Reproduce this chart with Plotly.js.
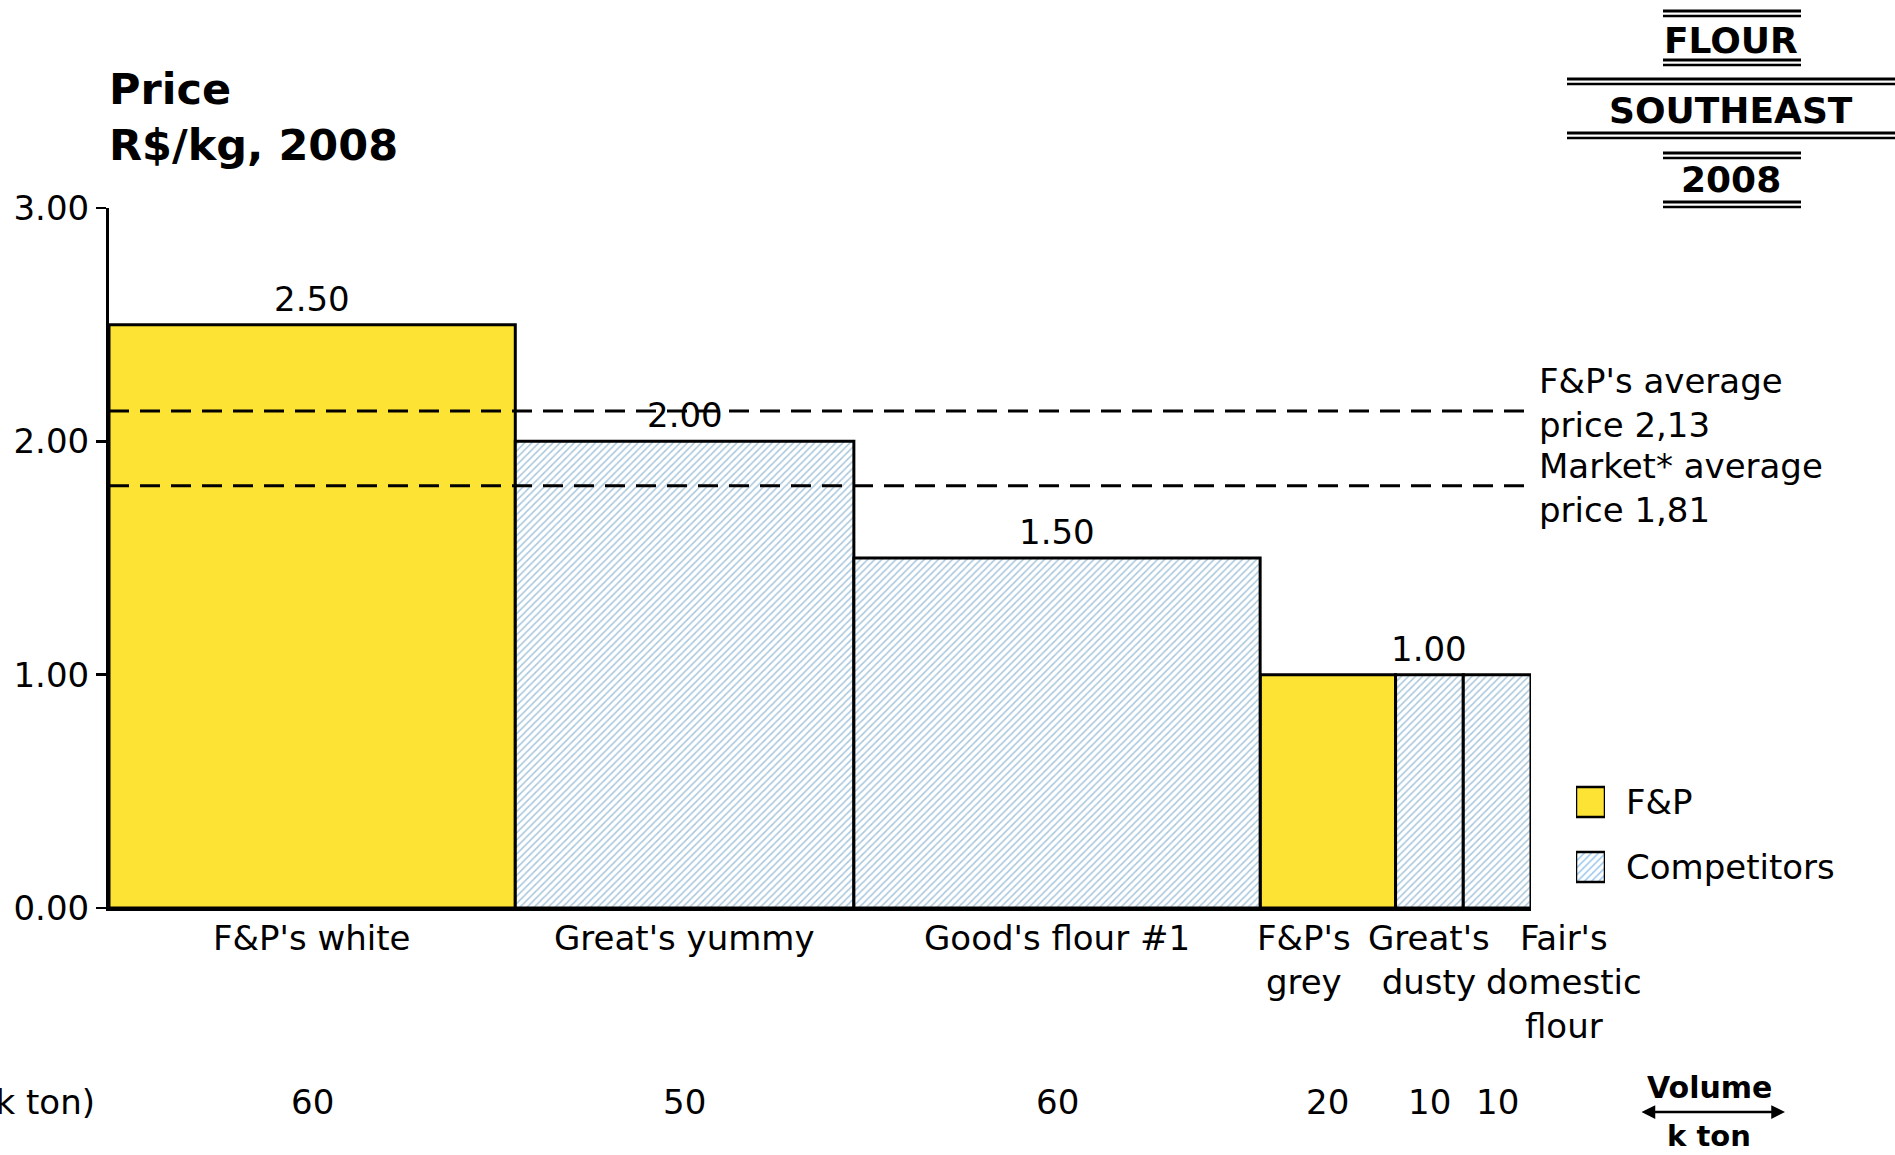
<!DOCTYPE html>
<html>
<head>
<meta charset="utf-8">
<script src="https://cdn.plot.ly/plotly-3.0.1.min.js"></script>
<style>
  html, body { margin: 0; padding: 0; background: #ffffff; }
  #chart { width: 1895px; height: 1155px; }
</style>
</head>
<body>
<div id="chart"></div>
<script>
// ---------------- DATA ----------------
const categories = ["F&P's white", "Great's yummy", "Good's flour #1", "F&P's grey", "Great's dusty", "Fair's domestic flour"];
const categoryLabels = ["F&P's white", "Great's yummy", "Good's flour #1", "F&P's<br>grey", "Great's<br>dusty", "Fair's<br>domestic<br>flour"];
const volumes = [60, 50, 60, 20, 10, 10];          // k ton
const prices = [2.50, 2.00, 1.50, 1.00, 1.00, 1.00]; // R$/kg
const owners = ["F&P", "Competitors", "Competitors", "F&P", "Competitors", "Competitors"];
const priceLabels = ["2.50", "2.00", "1.50", "", "1.00", ""];
const seriesNames = ["F&P", "Competitors"];
const averageNames = ["F&P's average<br>price 2,13", "Market* average<br>price 1,81"];
const averageValues = [2.13, 1.81];
const yTicks = [0, 1, 2, 3];
const headerLines = ["FLOUR", "SOUTHEAST", "2008"];
const chartTitle = "Price<br>R$/kg, 2008";
const volumeRowLabel = "Volume (k ton)";
const volumeAxisName = ["Volume", "k ton"];

// ---------------- STYLE / LAYOUT HELPERS ----------------
const FONT = "DejaVu Sans";
const YELLOW = "#FDE334";
const HATCH = { shape: "/", fgcolor: "#a9c7dc", bgcolor: "#ffffff", size: 5, solidity: 0.3 };
const seriesStyle = {
  "F&P": { color: YELLOW, pattern: { shape: "" } },
  "Competitors": { color: "#ffffff", pattern: HATCH }
};
const W = 1895, H = 1155;
const L = 109, T = 208, B = 247, R = 0;
const PW = W - L - R, PH = H - T - B;
const px = p => (p - L) / PW;          // pixel x -> paper x
const py = p => (T + PH - p) / PH;     // pixel y -> paper y
const labelShift = [0, 0, 0, -24, 0, 67];

// cumulative centres
const totalVolume = volumes.reduce((a, b) => a + b, 0);
const centers = [];
let acc = 0;
volumes.forEach(v => { centers.push(acc + v / 2); acc += v; });

const xEnd = px(1531);

// ---------------- TRACES ----------------
const traces = [];
seriesNames.forEach(name => {
  const idx = owners.map((o, i) => o === name ? i : -1).filter(i => i >= 0);
  traces.push({
    type: "bar",
    name: name,
    x: idx.map(i => centers[i]),
    y: idx.map(i => prices[i]),
    width: idx.map(i => volumes[i]),
    hovertext: idx.map(i => categories[i]),
    hoverinfo: "text+y",
    textposition: "none",
    cliponaxis: false,
    marker: {
      color: seriesStyle[name].color,
      pattern: seriesStyle[name].pattern,
      line: { color: "#000000", width: 3 }
    },
    xaxis: "x", yaxis: "y",
    showlegend: false
  });
});

// legend swatches (drawn as bars on a small helper axis)
seriesNames.forEach((name, k) => {
  traces.push({
    type: "bar",
    orientation: "h",
    x: [1], y: [seriesNames.length - 1 - k], base: 0, width: 0.46,
    marker: {
      color: seriesStyle[name].color,
      pattern: name === "Competitors" ? Object.assign({}, HATCH, { fgcolor: "#9cc8ef" }) : { shape: "" },
      line: { color: "#000000", width: 2.5 }
    },
    textposition: "none",
    xaxis: "x2", yaxis: "y2",
    hoverinfo: "skip",
    showlegend: false
  });
});

// ---------------- ANNOTATIONS ----------------
const annotations = [];
// price labels above bars
priceLabels.forEach((t, i) => {
  if (!t) return;
  annotations.push({ xref: "x", yref: "y", x: centers[i], y: prices[i], yshift: 26,
    text: t, showarrow: false, xanchor: "center", yanchor: "middle",
    font: { family: FONT, size: 34, color: "#000" } });
});
// category labels
categoryLabels.forEach((t, i) => {
  annotations.push({ xref: "x", yref: "y", x: centers[i], y: 0, yshift: -8, xshift: labelShift[i],
    text: t, showarrow: false, xanchor: "center", yanchor: "top", align: "center",
    font: { family: FONT, size: 34, color: "#000" } });
});
// volume row
volumes.forEach((v, i) => {
  annotations.push({ xref: "x", yref: "paper", x: centers[i], y: py(1102),
    text: String(v), showarrow: false, xanchor: "center", yanchor: "middle",
    font: { family: FONT, size: 34, color: "#000" } });
});
annotations.push({ xref: "paper", yref: "paper", x: px(97), y: py(1102),
  text: volumeRowLabel, showarrow: false, xanchor: "right", yanchor: "middle",
  font: { family: FONT, size: 34, color: "#000" } });
// averages
const avgShift = [8, -2];
averageNames.forEach((t, i) => {
  annotations.push({ xref: "x", yref: "y", x: totalVolume, y: averageValues[i], xshift: 6, yshift: avgShift[i],
    text: t, showarrow: false, xanchor: "left", yanchor: "middle", align: "left",
    font: { family: FONT, size: 34, color: "#000" } });
});
// legend labels
seriesNames.forEach((name, k) => {
  annotations.push({ xref: "paper", yref: "paper", x: px(1624), y: py(k === 0 ? 802 : 867),
    text: name, showarrow: false, xanchor: "left", yanchor: "middle",
    font: { family: FONT, size: 34, color: "#000" } });
});
// header
const headerY = [40, 110, 180];
const headerSize = [36, 36, 36];
headerLines.forEach((t, i) => {
  annotations.push({ xref: "paper", yref: "paper", x: px(1731), y: py(headerY[i]),
    text: "<b>" + t + "</b>", showarrow: false, xanchor: "center", yanchor: "middle",
    font: { family: FONT, size: headerSize[i], color: "#000" } });
});
// volume arrow key
annotations.push({ xref: "paper", yref: "paper", x: px(1709), y: py(1087),
  text: "<b>" + volumeAxisName[0] + "</b>", showarrow: false, xanchor: "center", yanchor: "middle",
  font: { family: FONT, size: 30, color: "#000" } });
annotations.push({ xref: "paper", yref: "paper", x: px(1709), y: py(1136),
  text: "<b>" + volumeAxisName[1] + "</b>", showarrow: false, xanchor: "center", yanchor: "middle",
  font: { family: FONT, size: 29, color: "#000" } });
annotations.push({ xref: "paper", yref: "paper", x: px(1785), y: py(1112),
  ax: -145, ay: 0, text: "", showarrow: true, arrowside: "end+start",
  arrowhead: 2, arrowsize: 1.1, arrowwidth: 2.5, arrowcolor: "#000" });

// ---------------- SHAPES ----------------
const shapes = [];
averageValues.forEach(v => {
  shapes.push({ type: "line", xref: "x", yref: "y", x0: 0, x1: totalVolume, y0: v, y1: v,
    line: { color: "#000", width: 3, dash: "20px,11px" }, layer: "above" });
});
// header double rules
const rules = [
  { x0: 1663, x1: 1801, ys: [11, 16, 60, 65] },
  { x0: 1567, x1: 1895, ys: [79, 84, 133, 138] },
  { x0: 1663, x1: 1801, ys: [153, 158, 202, 207] }
];
rules.forEach(r => {
  r.ys.forEach((yy, j) => {
    shapes.push({ type: "line", xref: "paper", yref: "paper", x0: px(r.x0), x1: px(r.x1), y0: py(yy), y1: py(yy),
      line: { color: "#000", width: j % 2 === 0 ? 3 : 2.5 } });
  });
});

// ---------------- LAYOUT ----------------
const layout = {
  width: W, height: H,
  margin: { l: L, r: R, t: T, b: B, pad: 0 },
  paper_bgcolor: "#ffffff",
  plot_bgcolor: "#ffffff",
  font: { family: FONT, size: 34, color: "#000" },
  showlegend: false,
  barmode: "overlay",
  title: {
    text: "<b>" + chartTitle + "</b>",
    font: { family: FONT, size: 43, color: "#000" },
    xref: "paper", x: 0, xanchor: "left",
    yref: "container", y: 1 - 104 / H, yanchor: "middle"
  },
  xaxis: {
    domain: [0, xEnd], range: [0, totalVolume],
    showline: true, linecolor: "#000", linewidth: 3,
    showticklabels: false, ticks: "", showgrid: false, zeroline: false, fixedrange: true
  },
  yaxis: {
    range: [0, 3], tickvals: yTicks, tickformat: ".2f",
    ticks: "outside", ticklen: 10, tickwidth: 2.5, tickcolor: "#000",
    showline: true, linecolor: "#000", linewidth: 3,
    showgrid: false, zeroline: false, fixedrange: true,
    tickfont: { family: FONT, size: 34, color: "#000" }
  },
  xaxis2: { domain: [px(1576), px(1605)], range: [0, 1], visible: false, anchor: "y2", fixedrange: true },
  yaxis2: { domain: [py(899.5), py(769.5)], range: [-0.5, 1.5], visible: false, anchor: "x2", fixedrange: true },
  annotations: annotations,
  shapes: shapes
};

Plotly.newPlot("chart", traces, layout, { displayModeBar: false, staticPlot: true });
</script>
</body>
</html>
